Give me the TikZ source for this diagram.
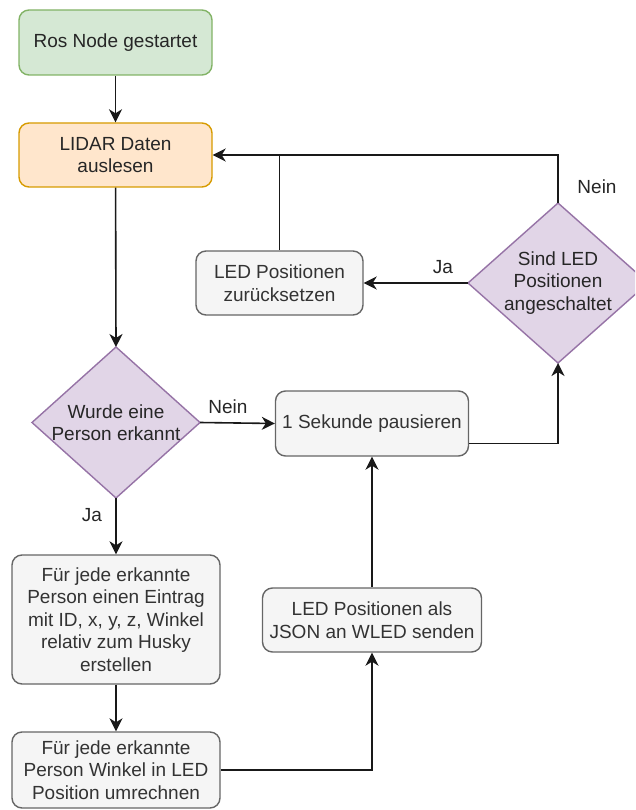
\documentclass[tikz,border=0pt]{standalone}
\usepackage{fontspec}
\setmainfont{Liberation Sans}
\usetikzlibrary{arrows.meta,shapes.geometric,calc}

\definecolor{greenfill}{HTML}{D5E8D4}
\definecolor{greenline}{HTML}{82B366}
\definecolor{orangefill}{HTML}{FFE6CC}
\definecolor{orangeline}{HTML}{D79B00}
\definecolor{purplefill}{HTML}{E1D5E7}
\definecolor{purpleline}{HTML}{9673A6}
\definecolor{grayfill}{HTML}{F5F5F5}
\definecolor{grayline}{HTML}{666666}
\definecolor{graytext}{HTML}{333333}

\tikzset{
  txt/.style={font=\fontsize{19}{22.5}\selectfont, align=center, inner sep=0pt},
  procbox/.style={txt, rectangle, rounded corners=10pt, line width=1.4pt},
  startbox/.style={procbox, fill=greenfill, draw=greenline, text=black!85},
  readbox/.style={procbox, fill=orangefill, draw=orangeline, text=black!85},
  graybox/.style={procbox, fill=grayfill, draw=grayline, text=graytext},
  decision/.style={diamond, aspect=1, fill=purplefill, draw=purpleline,
    line width=1.4pt, inner sep=0pt, outer sep=0pt},
  dectext/.style={txt, text=black!85},
  conn/.style={line width=1.6pt, draw=black!90,
    -{Stealth[length=13pt,width=13pt,inset=4pt]}},
  plainconn/.style={line width=1.6pt, draw=black!90},
  edgelabel/.style={txt, text=black!85}
}

\begin{document}
\begin{tikzpicture}[x=1pt,y=-1pt]
  \useasboundingbox (0,0) rectangle (635,810);
  \clip (0,0) rectangle (635,810);

  % process steps
  \node[startbox, minimum width=193pt, minimum height=65pt] (ros) at (115.5,42.5) {Ros Node gestartet};
  \node[readbox, minimum width=193pt, minimum height=64pt] (lidar) at (115.5,155) {LIDAR Daten\\auslesen};
  \node[graybox, minimum width=167pt, minimum height=64pt] (reset) at (279.5,283) {LED Positionen\\zurücksetzen};
  \node[graybox, minimum width=193pt, minimum height=65pt] (pause) at (372,423.5) {1 Sekunde pausieren};
  \node[graybox, minimum width=208pt, minimum height=129pt] (eintrag) at (116,619.5)
    {Für jede erkannte\\Person einen Eintrag\\mit ID, x, y, z, Winkel\\relativ zum Husky\\erstellen};
  \node[graybox, minimum width=208pt, minimum height=76pt] (umrechnen) at (116,770)
    {Für jede erkannte\\Person Winkel in LED\\Position umrechnen};
  \node[graybox, minimum width=219pt, minimum height=64pt] (json) at (372,620)
    {LED Positionen als\\JSON an WLED senden};

  % decisions: the shape keeps its own size, the question sits on top of it
  \node[decision, minimum width=168pt, minimum height=151pt] (wurde) at (116,422.5) {};
  \node[dectext] (wurdetext) at (wurde.center) {Wurde eine\\Person erkannt};
  \node[decision, minimum width=180pt, minimum height=160pt] (sind) at (558,283) {};
  \node[dectext] (sindtext) at (sind.center) {Sind LED\\Positionen\\angeschaltet};

  % connectors
  \draw[conn] (ros) -- (lidar);
  \draw[conn] (lidar) -- (wurde.north);
  \draw[conn] (wurde.east) -- (pause.west);
  \draw[conn] (wurde.south) -- (eintrag.north);
  \draw[conn] (eintrag) -- (umrechnen);
  \draw[conn] (umrechnen.east) -| (json.south);
  \draw[conn] (json.north) -- (pause.south);
  \draw[conn] ([yshift=-20pt]pause.east) -| (sind.south);
  \draw[conn] (sind.west) -- (reset.east);
  \draw[conn] (sind.north) |- (lidar.east);
  \draw[plainconn] (reset.north) -- (reset.north |- lidar.east);

  % branch labels
  \node[edgelabel] (nein1) at (228,407) {Nein};
  \node[edgelabel] (ja1) at (92,515) {Ja};
  \node[edgelabel] (ja2) at (443,267) {Ja};
  \node[edgelabel] (nein2) at (597,187) {Nein};
\end{tikzpicture}
\end{document}
